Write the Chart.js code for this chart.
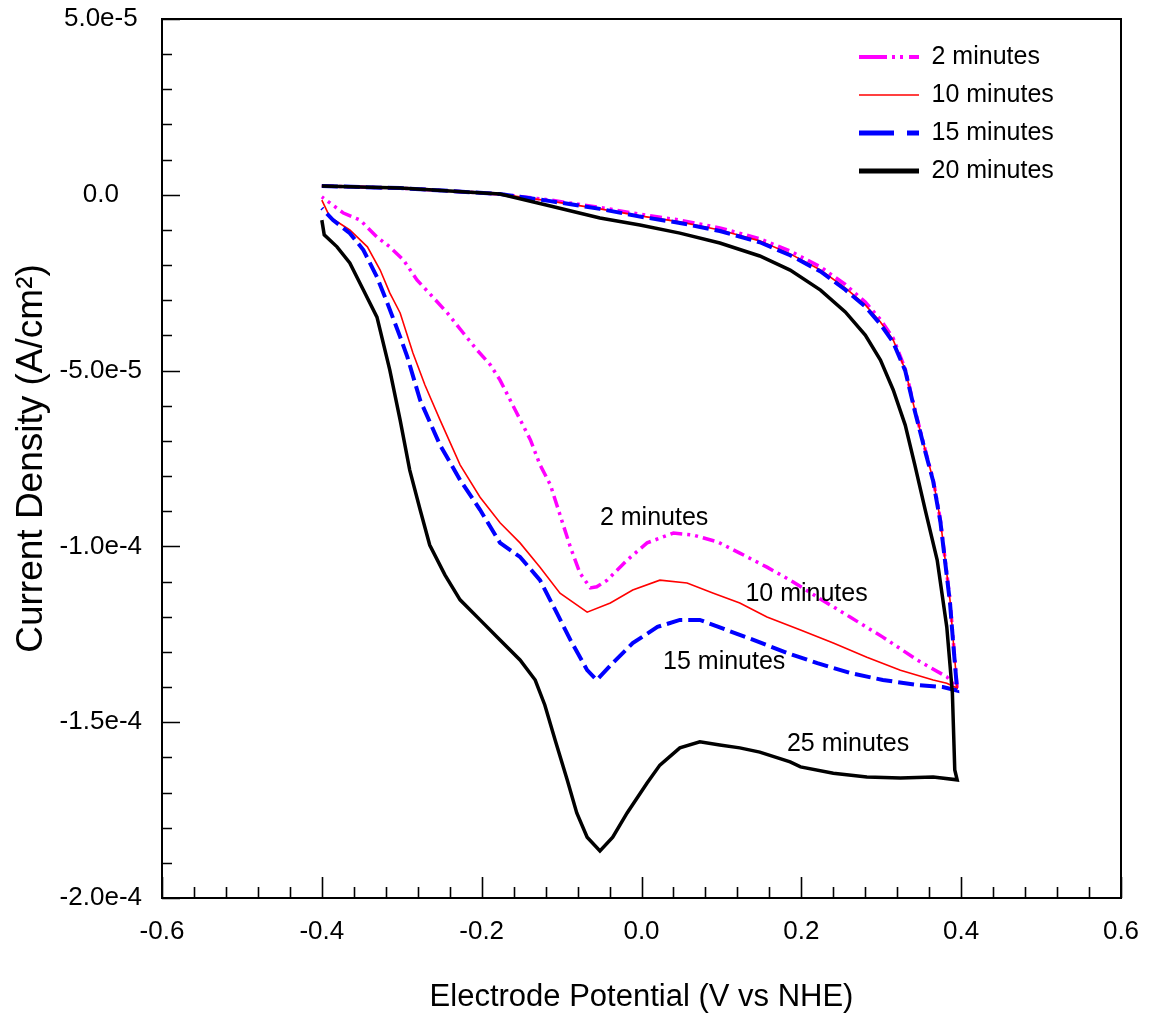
<!DOCTYPE html>
<html>
<head>
<meta charset="utf-8">
<script src="https://cdn.jsdelivr.net/npm/chart.js@4.4.0/dist/chart.umd.min.js"></script>
<style>
html,body{margin:0;padding:0;background:#fff;}
canvas{display:block;}
</style>
</head>
<body>
<canvas id="c" width="1152" height="1025"></canvas>
<script>
// ---- Data (potential in V vs NHE, current density in A/cm^2) ----
const seriesNames = ['2 minutes', '10 minutes', '15 minutes', '20 minutes'];

const potential2 = [-0.400, -0.352, -0.302, -0.240, -0.177, -0.114, -0.052, -0.002, 0.048, 0.098, 0.148, 0.186, 0.224, 0.255, 0.280, 0.299, 0.315, 0.330, 0.342, 0.355, 0.365, 0.374, 0.380, 0.386, 0.390, 0.395,
  0.382, 0.345, 0.302, 0.261, 0.220, 0.186, 0.157, 0.123, 0.095, 0.065, 0.040, 0.007, -0.018, -0.043, -0.056, -0.064, -0.077, -0.089, -0.104, -0.114, -0.127, -0.139, -0.158, -0.177, -0.189, -0.206, -0.223, -0.243, -0.261, -0.281, -0.298, -0.315, -0.331, -0.352, -0.373, -0.400];
const current2 = [2.5e-6, 2.2e-6, 1.9e-6, 1.1e-6, 0.2e-6, -1.5e-6, -3.6e-6, -5.5e-6, -7.2e-6, -9.4e-6, -12.5e-6, -16.0e-6, -20.5e-6, -25.5e-6, -30.5e-6, -35.5e-6, -40.8e-6, -49.5e-6, -61.0e-6, -72.5e-6, -81.0e-6, -92.5e-6, -103.9e-6, -115.2e-6, -126.6e-6, -140.3e-6,
  -137.1e-6, -132.3e-6, -125.8e-6, -120.1e-6, -114.4e-6, -109.6e-6, -105.9e-6, -101.9e-6, -98.7e-6, -96.8e-6, -96.2e-6, -99.0e-6, -103.9e-6, -109.6e-6, -111.5e-6, -111.8e-6, -107.6e-6, -100.2e-6, -89.6e-6, -82.5e-6, -76.8e-6, -69.7e-6, -61.2e-6, -52.7e-6, -48.4e-6, -44.1e-6, -39.3e-6, -33.6e-6, -29.1e-6, -24.2e-6, -18.5e-6, -14.8e-6, -12.0e-6, -7.2e-6, -5.2e-6, -0.6e-6];

const potential10 = [-0.400, -0.352, -0.302, -0.240, -0.177, -0.114, -0.052, -0.002, 0.048, 0.098, 0.148, 0.186, 0.224, 0.255, 0.280, 0.299, 0.315, 0.330, 0.342, 0.355, 0.365, 0.374, 0.380, 0.386, 0.390, 0.395,
  0.382, 0.365, 0.324, 0.282, 0.240, 0.199, 0.157, 0.123, 0.090, 0.057, 0.023, -0.011, -0.039, -0.068, -0.102, -0.127, -0.152, -0.177, -0.202, -0.227, -0.252, -0.271, -0.286, -0.302, -0.315, -0.327, -0.343, -0.365, -0.390, -0.400];
const current10 = [2.5e-6, 2.2e-6, 1.9e-6, 1.1e-6, 0.2e-6, -1.8e-6, -4.0e-6, -6.0e-6, -7.7e-6, -10.0e-6, -13.1e-6, -16.8e-6, -21.4e-6, -26.5e-6, -31.3e-6, -36.2e-6, -41.3e-6, -49.8e-6, -61.2e-6, -72.6e-6, -81.1e-6, -92.5e-6, -103.9e-6, -115.2e-6, -126.6e-6, -140.3e-6,
  -138.9e-6, -138.0e-6, -135.2e-6, -131.5e-6, -127.5e-6, -123.8e-6, -120.1e-6, -116.1e-6, -113.3e-6, -110.4e-6, -109.6e-6, -112.4e-6, -116.1e-6, -118.7e-6, -113.3e-6, -105.9e-6, -99.0e-6, -93.3e-6, -86.0e-6, -76.8e-6, -64.1e-6, -54.1e-6, -45.0e-6, -33.6e-6, -27.9e-6, -21.4e-6, -14.8e-6, -10.0e-6, -6.3e-6, -1.5e-6];

const potential15 = [-0.400, -0.352, -0.302, -0.240, -0.177, -0.114, -0.052, -0.002, 0.048, 0.098, 0.148, 0.186, 0.224, 0.255, 0.280, 0.299, 0.315, 0.330, 0.342, 0.355, 0.365, 0.374, 0.380, 0.386, 0.390, 0.395,
  0.377, 0.345, 0.302, 0.261, 0.220, 0.182, 0.140, 0.107, 0.073, 0.048, 0.020, -0.011, -0.036, -0.056, -0.068, -0.089, -0.106, -0.127, -0.152, -0.177, -0.202, -0.227, -0.252, -0.277, -0.293, -0.302, -0.318, -0.331, -0.348, -0.365, -0.386, -0.400];
const current15 = [2.5e-6, 2.2e-6, 1.9e-6, 1.1e-6, 0.2e-6, -1.8e-6, -4.0e-6, -6.2e-6, -8.0e-6, -10.3e-6, -13.5e-6, -17.2e-6, -21.8e-6, -27.0e-6, -31.8e-6, -36.8e-6, -42.0e-6, -50.0e-6, -61.5e-6, -73.0e-6, -81.5e-6, -93.0e-6, -104.5e-6, -116.0e-6, -127.5e-6, -141.0e-6,
  -140.0e-6, -139.4e-6, -138.0e-6, -136.0e-6, -133.2e-6, -130.3e-6, -126.6e-6, -123.8e-6, -120.9e-6, -120.9e-6, -122.9e-6, -127.5e-6, -133.2e-6, -138.0e-6, -135.2e-6, -126.6e-6, -118.9e-6, -109.6e-6, -103.0e-6, -99.0e-6, -89.6e-6, -81.1e-6, -71.2e-6, -58.4e-6, -46.1e-6, -40.4e-6, -30.8e-6, -23.4e-6, -15.7e-6, -10.9e-6, -7.2e-6, -3.8e-6];

const potential20 = [-0.400, -0.352, -0.302, -0.240, -0.177, -0.114, -0.052, -0.002, 0.048, 0.098, 0.148, 0.186, 0.224, 0.255, 0.280, 0.299, 0.315, 0.330, 0.342, 0.355, 0.370, 0.382, 0.389, 0.392, 0.395,
  0.365, 0.324, 0.282, 0.240, 0.199, 0.186, 0.148, 0.123, 0.098, 0.073, 0.048, 0.023, 0.007, -0.018, -0.036, -0.052, -0.068, -0.081, -0.093, -0.108, -0.121, -0.133, -0.152, -0.177, -0.202, -0.227, -0.246, -0.265, -0.277, -0.290, -0.302, -0.315, -0.331, -0.348, -0.365, -0.381, -0.397, -0.400];
const current20 = [2.5e-6, 2.2e-6, 1.9e-6, 1.1e-6, 0.2e-6, -3.2e-6, -6.6e-6, -8.6e-6, -10.9e-6, -13.7e-6, -17.4e-6, -21.4e-6, -27.1e-6, -33.3e-6, -39.9e-6, -47.0e-6, -55.5e-6, -65.5e-6, -76.8e-6, -89.6e-6, -103.9e-6, -122.9e-6, -141.7e-6, -163.6e-6, -166.4e-6,
  -165.6e-6, -165.9e-6, -165.6e-6, -164.5e-6, -162.7e-6, -161.3e-6, -158.5e-6, -157.3e-6, -156.5e-6, -155.6e-6, -157.3e-6, -162.2e-6, -167.3e-6, -175.8e-6, -182.7e-6, -186.6e-6, -182.7e-6, -175.8e-6, -166.4e-6, -155.1e-6, -145.1e-6, -138.0e-6, -132.3e-6, -126.6e-6, -120.9e-6, -115.2e-6, -108.1e-6, -99.6e-6, -89.6e-6, -78.3e-6, -64.1e-6, -49.8e-6, -34.8e-6, -27.1e-6, -19.4e-6, -14.8e-6, -11.4e-6, -7.2e-6];

// in-plot annotation labels (data coordinates: left edge x, centre y)
const noteText = ['2 minutes', '10 minutes', '15 minutes', '25 minutes'];
const noteX = [-0.052, 0.130, 0.027, 0.182];
const noteY = [-91.9e-6, -113.5e-6, -132.9e-6, -156.2e-6];

// axis ranges / ticks
const xMin = -0.6, xMax = 0.6, xMajorStep = 0.2, xMinorPerMajor = 5;
const yMin = -2.0e-4, yMax = 5.0e-5, yMajorStep = 5.0e-5, yMinorPerMajor = 5;

// ---- Chart ----
const FONT = '"Liberation Sans", Arial, Helvetica, sans-serif';
Chart.defaults.font.family = FONT;
Chart.defaults.color = '#000';

function pts(xs, ys) { return xs.map((v, i) => ({x: v, y: ys[i]})); }

// small legend sample images (line styles)
function sample(color, width, dash) {
  const c = document.createElement('canvas');
  c.width = 60; c.height = 12;
  const g = c.getContext('2d');
  g.strokeStyle = color;
  g.lineWidth = width;
  g.setLineDash(dash);
  g.beginPath();
  g.moveTo(0, 6);
  g.lineTo(60, 6);
  g.stroke();
  return c;
}

const frameTicks = {
  id: 'frameTicks',
  afterDraw(chart) {
    const {ctx, chartArea: a, scales: {x, y}} = chart;
    ctx.save();
    ctx.strokeStyle = '#000';
    ctx.lineWidth = 1.6;
    ctx.beginPath();
    const nx = Math.round((xMax - xMin) / xMajorStep) * xMinorPerMajor;
    for (let i = 0; i <= nx; i++) {
      const v = xMin + i * xMajorStep / xMinorPerMajor;
      const p = Math.round(x.getPixelForValue(v)) + 0.5;
      const len = (i % xMinorPerMajor === 0) ? 21 : 11;
      ctx.moveTo(p, a.bottom);
      ctx.lineTo(p, a.bottom - len);
    }
    const ny = Math.round((yMax - yMin) / yMajorStep) * yMinorPerMajor;
    for (let i = 0; i <= ny; i++) {
      const v = yMin + i * yMajorStep / yMinorPerMajor;
      const p = Math.round(y.getPixelForValue(v)) + 0.5;
      const len = (i % yMinorPerMajor === 0) ? 18 : 10;
      ctx.moveTo(a.left, p);
      ctx.lineTo(a.left + len, p);
    }
    ctx.stroke();
    ctx.lineWidth = 2;
    ctx.strokeRect(a.left, a.top, a.right - a.left, a.bottom - a.top);
    ctx.restore();
  }
};

const notes = {
  id: 'notes',
  afterDatasetsDraw(chart) {
    const {ctx, scales: {x, y}} = chart;
    ctx.save();
    ctx.fillStyle = '#000';
    ctx.font = '25px ' + FONT;
    ctx.textAlign = 'left';
    ctx.textBaseline = 'middle';
    noteText.forEach((t, i) => ctx.fillText(t, x.getPixelForValue(noteX[i]), y.getPixelForValue(noteY[i])));
    ctx.restore();
  }
};

const legendPlacer = {
  id: 'legendPlacer',
  afterLayout(chart) {
    const lg = chart.legend;
    if (!lg) return;
    const a = chart.chartArea;
    lg.left = a.right - 275;
    lg.right = lg.left + lg.width;
    lg.top = a.top + 12.5;
  }
};

new Chart(document.getElementById('c'), {
  type: 'scatter',
  data: {
    datasets: [
      { label: seriesNames[0], data: pts(potential2, current2), showLine: true, borderColor: '#ff00ff', backgroundColor: '#ff00ff',
        borderWidth: 3.5, borderDash: [12, 5, 3, 5, 3, 5], pointRadius: 0, tension: 0, order: 4,
        pointStyle: sample('#ff00ff', 4, [28, 5, 3, 5, 3, 6]) },
      { label: seriesNames[1], data: pts(potential10, current10), showLine: true, borderColor: '#ff0000', backgroundColor: '#ff0000',
        borderWidth: 1.6, pointRadius: 0, tension: 0, order: 3,
        pointStyle: sample('#ff0000', 1.6, []) },
      { label: seriesNames[2], data: pts(potential15, current15), showLine: true, borderColor: '#0000ff', backgroundColor: '#0000ff',
        borderWidth: 4, borderDash: [16, 6], pointRadius: 0, tension: 0, order: 2,
        pointStyle: sample('#0000ff', 5, [35, 13]) },
      { label: seriesNames[3], data: pts(potential20, current20), showLine: true, borderColor: '#000000', backgroundColor: '#000000',
        borderWidth: 3.5, pointRadius: 0, tension: 0, order: 1,
        pointStyle: sample('#000000', 5, []) }
    ]
  },
  options: {
    responsive: false,
    animation: false,
    devicePixelRatio: 1,
    events: [],
    layout: { padding: { left: 0, top: 19, right: 31, bottom: 0 } },
    scales: {
      x: {
        type: 'linear', min: xMin, max: xMax,
        afterFit: s => { s.height = 127; s.paddingLeft = 0; s.paddingRight = 0; },
        grid: { display: false, drawTicks: false },
        border: { display: false },
        ticks: { stepSize: xMajorStep, padding: 18, font: { size: 26 }, color: '#000', maxRotation: 0, autoSkip: false,
          callback: v => Math.abs(v) < 1e-9 ? '0.0' : Number(v).toFixed(1) },
        title: { display: true, text: 'Electrode Potential (V vs NHE)', font: { size: 31 }, color: '#000', padding: { top: 0, bottom: 9 } }
      },
      y: {
        type: 'linear', min: yMin, max: yMax,
        afterFit: s => { s.width = 162; s.paddingTop = 0; s.paddingBottom = 0; },
        grid: { display: false, drawTicks: false },
        border: { display: false },
        ticks: { stepSize: yMajorStep, padding: 20, crossAlign: 'center', font: { size: 26 }, color: '#000', autoSkip: false,
          callback: v => Math.abs(v) < 1e-12 ? '0.0' : Number(v).toExponential(1) },
        title: { display: true, text: 'Current Density (A/cm²)', font: { size: 37 }, color: '#000', padding: { top: 10, bottom: 0 } }
      }
    },
    plugins: {
      legend: {
        display: true,
        position: 'chartArea',
        align: 'start',
        labels: {
          usePointStyle: true, pointStyleWidth: 60, boxHeight: 25,
          padding: 13, color: '#000', font: { size: 25 },
          sort: (a, b) => a.datasetIndex - b.datasetIndex
        }
      },
      tooltip: { enabled: false }
    }
  },
  plugins: [frameTicks, notes, legendPlacer]
});
</script>
</body>
</html>
